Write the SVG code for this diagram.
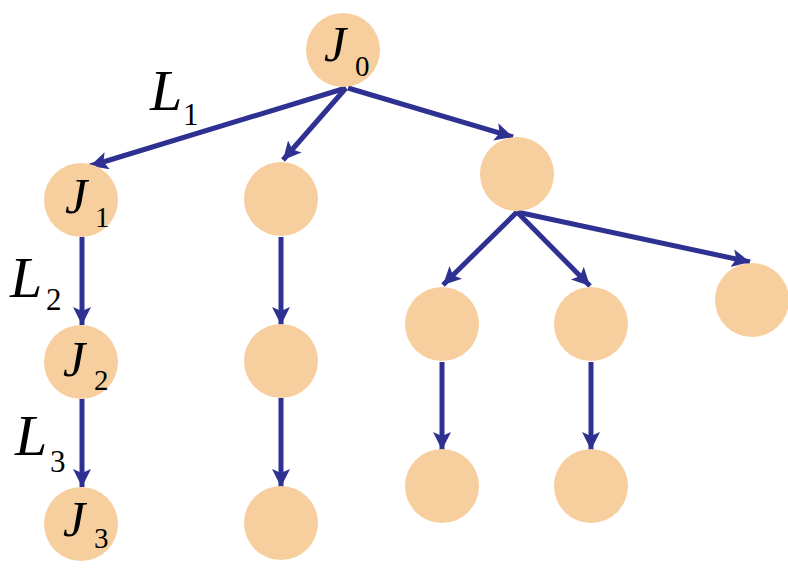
<svg xmlns="http://www.w3.org/2000/svg" width="788" height="570" viewBox="0 0 788 570">
<style>
.n{fill:#F7CF9F}
.e{stroke:#2F3192;stroke-width:5;fill:none;marker-end:url(#a)}
.v{font-family:"Liberation Serif","Times New Roman",serif;font-style:italic;fill:#000}
.s{font-family:"Liberation Serif","Times New Roman",serif;fill:#000}
</style>
<defs>
<marker id="a" markerUnits="userSpaceOnUse" markerWidth="20" markerHeight="20" refX="18" refY="9" orient="auto">
<path d="M0,0 L18,9 L0,18 L4,9 z" fill="#2F3192"/>
</marker>
</defs>
<rect width="788" height="570" fill="#fff"/>
<g id="connectors">
<line class="e" x1="346" y1="88" x2="90" y2="166"/>
<line class="e" x1="346" y1="88" x2="283" y2="160"/>
<line class="e" x1="348" y1="88" x2="513" y2="137"/>
<line class="e" x1="517" y1="212" x2="443" y2="285"/>
<line class="e" x1="517" y1="212" x2="590" y2="286"/>
<line class="e" x1="517" y1="212" x2="750" y2="262"/>
<line class="e" x1="82" y1="237" x2="82" y2="325"/>
<line class="e" x1="82" y1="399" x2="82" y2="487"/>
<line class="e" x1="281" y1="237" x2="281" y2="325"/>
<line class="e" x1="281" y1="398" x2="281" y2="487"/>
<line class="e" x1="442" y1="362" x2="442" y2="450"/>
<line class="e" x1="591" y1="362" x2="591" y2="450"/>
</g>
<g id="J0"><circle class="n" cx="343" cy="50" r="37"/><text class="v" x="324" y="61" font-size="50">J</text><text class="s" x="355" y="76" font-size="29">0</text></g>
<g id="J1"><circle class="n" cx="81" cy="200" r="37"/><text class="v" x="65" y="213" font-size="50">J</text><text class="s" x="95" y="227" font-size="29">1</text></g>
<g id="M1"><circle class="n" cx="281" cy="199" r="37"/></g>
<g id="C"><circle class="n" cx="517" cy="174" r="37"/></g>
<g id="J2"><circle class="n" cx="81" cy="362" r="37"/><text class="v" x="63" y="376" font-size="50">J</text><text class="s" x="94" y="390" font-size="29">2</text></g>
<g id="M2"><circle class="n" cx="281" cy="361" r="37"/></g>
<g id="CL"><circle class="n" cx="442" cy="324" r="37"/></g>
<g id="CM"><circle class="n" cx="591" cy="324" r="37"/></g>
<g id="CR"><circle class="n" cx="752" cy="300" r="37"/></g>
<g id="J3"><circle class="n" cx="81" cy="524" r="37"/><text class="v" x="63" y="536" font-size="50">J</text><text class="s" x="94" y="548" font-size="29">3</text></g>
<g id="M3"><circle class="n" cx="281" cy="523" r="37"/></g>
<g id="CL2"><circle class="n" cx="442" cy="486" r="37"/></g>
<g id="CM2"><circle class="n" cx="591" cy="486" r="37"/></g>
<g id="labels">
<text class="v" x="150" y="110" font-size="58">L</text><text class="s" x="183" y="125" font-size="31">1</text>
<text class="v" x="10" y="297" font-size="58">L</text><text class="s" x="46" y="310" font-size="31">2</text>
<text class="v" x="15" y="455" font-size="58">L</text><text class="s" x="50" y="472" font-size="31">3</text>
</g>
</svg>
